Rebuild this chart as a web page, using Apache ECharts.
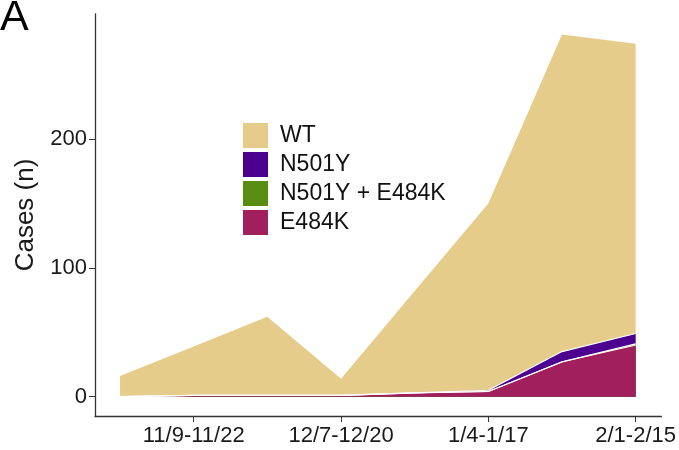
<!DOCTYPE html>
<html>
<head>
<meta charset="utf-8">
<script src="https://cdn.jsdelivr.net/npm/echarts@6/dist/echarts.min.js"></script>
<style>
  html, body { margin: 0; padding: 0; background: #fff; }
  #chart { width: 679px; height: 450px; }
</style>
</head>
<body>
<div id="chart"></div>
<script>
// biweekly periods, x = 1..8
var periods = ['10/26-11/8', '11/9-11/22', '11/23-12/6', '12/7-12/20', '12/21-1/3', '1/4-1/17', '1/18-1/31', '2/1-2/15'];
var xPos = [1, 2, 3, 4, 5, 6, 7, 8];
var labelTicks = [2, 4, 6, 8];
var yTicks = [0, 100, 200];

var e484k = [0, 1, 1, 1, 3, 4, 27, 40];
var n501yE484k = [0, 0, 0, 0, 0, 0, 0, 1];
var n501y = [0, 0, 0, 0, 0, 1, 8, 8];
var wt = [16, 38, 61, 13, 79, 145, 246, 225];

var colors = {
    'WT': '#E5CC8A',
    'N501Y': '#4B0090',
    'N501Y + E484K': '#5A8E13',
    'E484K': '#A11F5C'
};

// stack bottom -> top: E484K, N501Y + E484K, N501Y, WT
var layers = [['E484K', e484k], ['N501Y + E484K', n501yE484k], ['N501Y', n501y], ['WT', wt]];
var running = xPos.map(function () { return 0; });
var tops = {};
layers.forEach(function (l) {
    running = running.map(function (s, i) { return s + l[1][i]; });
    tops[l[0]] = running.slice();
});

function areaSeries(name, lineW) {
    return {
        name: name,
        type: 'line',
        data: xPos.map(function (x, i) { return [x, tops[name][i]]; }),
        showSymbol: false,
        symbol: 'none',
        lineStyle: { color: '#fff', width: lineW },
        itemStyle: { color: colors[name] },
        areaStyle: { color: colors[name], opacity: 1, origin: 0 }
    };
}

var font = 'Liberation Sans, Arial, sans-serif';
var chart = echarts.init(document.getElementById('chart'));

var option = {
    animation: false,
    graphic: [{
        type: 'text',
        left: 0,
        top: -3,
        style: { text: 'A', font: '43px ' + font, fill: '#000' }
    }],
    grid: { left: 95, right: 17, top: 14, bottom: 34 },
    legend: {
        orient: 'vertical',
        left: 238,
        top: 118,
        itemWidth: 25,
        itemHeight: 25,
        itemGap: 4,
        icon: 'rect',
        data: ['WT', 'N501Y', 'N501Y + E484K', 'E484K'],
        textStyle: { fontFamily: font, fontSize: 23, color: '#111', padding: [0, 0, 0, 7] }
    },
    xAxis: {
        type: 'value',
        min: 0.66,
        max: 8.35,
        axisLine: { onZero: false, lineStyle: { color: '#333', width: 1.3 } },
        axisTick: { customValues: labelTicks, length: 6, lineStyle: { color: '#333' } },
        axisLabel: {
            customValues: labelTicks,
            fontFamily: font,
            fontSize: 22,
            color: '#1a1a1a',
            margin: 9,
            formatter: function (v) { return periods[Math.round(v) - 1]; }
        },
        splitLine: { show: false }
    },
    yAxis: {
        type: 'value',
        min: -15,
        max: 297,
        name: 'Cases (n)',
        nameLocation: 'middle',
        nameGap: 56,
        nameTextStyle: { fontFamily: font, fontSize: 26, color: '#1a1a1a' },
        axisLine: { show: true, onZero: false, lineStyle: { color: '#333', width: 1.3 } },
        axisTick: { show: true, customValues: yTicks, length: 6, lineStyle: { color: '#333' } },
        axisLabel: {
            customValues: yTicks,
            fontFamily: font,
            fontSize: 22,
            color: '#1a1a1a',
            margin: 8
        },
        splitLine: { show: false }
    },
    // draw the tallest layer first so each lower layer paints over it
    series: [
        areaSeries('WT', 0),
        areaSeries('N501Y', 1.2),
        areaSeries('N501Y + E484K', 1.2),
        areaSeries('E484K', 1)
    ]
};

chart.setOption(option);
</script>
</body>
</html>
